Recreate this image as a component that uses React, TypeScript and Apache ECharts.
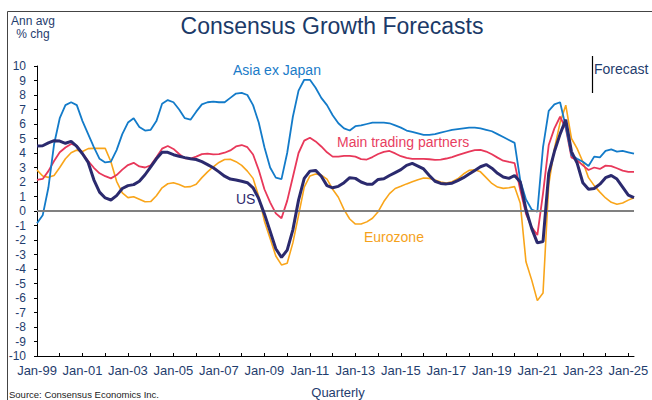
import { useEffect, useRef } from "react";
import * as echarts from "echarts";

const FONT = '"Liberation Sans", Arial, Helvetica, sans-serif';
const NAVY = "#1F3D6E";

// Quarterly categories, 1999Q1 .. 2025Q2
const years: number[] = [];
for (let y = 1999; y <= 2025; y++) years.push(y);
const months = ["Jan", "Apr", "Jul", "Oct"];
const quarters: string[] = [];
years.forEach((y) => {
  months.forEach((m) => {
    if (quarters.length < 106) quarters.push(`${m}-${String(y % 100).padStart(2, "0")}`);
  });
});

const asiaExJapan = [
  -0.85, -0.3, 1.6, 4.6,
  6.4, 7.3, 7.5, 7.3,
  6.2, 5.3, 4.4, 3.6,
  3.35, 3.4, 4.2, 5.3,
  6.1, 6.4, 5.8, 5.55,
  5.6, 6.2, 7.4, 7.65,
  7.5, 7.0, 6.4, 6.3,
  6.85, 7.35, 7.5, 7.55,
  7.5, 7.5, 7.8, 8.1,
  8.15, 8.0, 7.3, 6.1,
  4.4, 3.0, 2.3, 2.2,
  4.0, 6.5, 8.3, 9.05,
  9.05, 8.5, 7.8, 7.3,
  6.6, 6.05, 5.7, 5.55,
  5.85, 5.9, 6.0, 6.1,
  6.1, 6.1, 6.05, 5.9,
  5.75, 5.55, 5.45, 5.35,
  5.25, 5.25, 5.3, 5.4,
  5.5, 5.6, 5.65, 5.7,
  5.75, 5.75, 5.7, 5.6,
  5.5, 5.3, 5.1, 4.9,
  4.7, 2.1, 0.8, 0.1,
  -0.05, 4.4, 6.9, 7.35,
  7.5, 5.8, 3.85, 3.6,
  3.4, 3.1, 3.75, 3.7,
  4.15, 4.25, 4.1, 4.15,
  4.05, 3.95,
];

const mainTradingPartners = [
  2.14, 2.21, 2.75, 3.45,
  4.05, 4.38, 4.62, 4.5,
  3.98, 3.45, 2.98, 2.6,
  2.4, 2.25, 2.48, 2.85,
  3.17, 3.32, 3.07, 3.0,
  3.15, 3.7, 4.3, 4.48,
  4.28, 3.93, 3.63, 3.62,
  3.75, 3.92, 3.96, 3.91,
  3.92, 4.02, 4.18, 4.45,
  4.55, 4.4, 3.9, 2.83,
  1.5, 0.6, -0.16, -0.5,
  0.7, 2.35, 4.0, 4.85,
  5.05, 4.8, 4.45, 4.05,
  3.75, 3.75, 3.8, 3.8,
  3.75, 3.58, 3.55, 3.72,
  3.93, 4.08, 4.14, 3.97,
  3.78, 3.66, 3.6, 3.59,
  3.59, 3.57, 3.53, 3.55,
  3.62, 3.72, 3.85, 3.98,
  4.1, 4.2, 4.22, 4.1,
  3.91, 3.68, 3.47, 3.38,
  3.3, 1.45, -0.2, -1.1,
  -1.66, 1.22, 4.55, 5.7,
  6.5, 5.7, 3.7, 3.5,
  3.15, 2.83, 3.0, 2.9,
  3.13, 3.1, 2.95, 2.78,
  2.7, 2.7,
];

const us = [
  4.48, 4.5, 4.7, 4.85,
  4.82, 4.67, 4.8, 4.45,
  3.95, 3.35, 2.15, 1.3,
  0.9, 0.76, 1.06, 1.55,
  1.75, 1.82, 2.05, 2.5,
  3.05, 3.6, 4.05, 4.05,
  3.88, 3.78, 3.68, 3.6,
  3.55, 3.4, 3.2, 2.98,
  2.7, 2.4, 2.2, 2.14,
  2.05, 1.95, 1.6, 0.85,
  -0.2, -1.4, -2.6, -3.2,
  -2.7, -1.3, 0.75, 2.25,
  2.75, 2.8, 2.4, 1.75,
  1.6, 1.7, 1.95, 2.3,
  2.25, 2.0, 1.85, 1.85,
  2.18, 2.22, 2.45, 2.65,
  2.85, 3.15, 3.28, 3.1,
  2.9, 2.45, 2.05, 1.9,
  1.87, 1.92, 2.1, 2.3,
  2.55, 2.8, 3.05, 3.2,
  2.95, 2.6, 2.35, 2.25,
  2.45, 2.0, 0.1, -1.2,
  -2.2, -2.1, 2.6, 4.1,
  5.3, 6.3, 4.1, 3.3,
  1.95, 1.5, 1.55, 1.85,
  2.3, 2.45, 2.2, 1.65,
  1.1, 0.92,
];

const eurozone = [
  2.83, 2.41, 2.32, 2.45,
  3.0, 3.6, 4.02, 4.2,
  4.1, 4.3, 4.32, 4.32,
  4.32, 3.4, 2.05, 1.25,
  0.92, 0.98, 0.81, 0.64,
  0.65, 1.05, 1.6, 1.88,
  1.95, 1.82, 1.66, 1.68,
  1.85, 2.3, 2.7, 3.05,
  3.35, 3.55, 3.57, 3.4,
  3.15, 2.75, 2.25, 1.0,
  -0.7, -1.9, -3.1, -3.72,
  -3.6, -2.2, -0.3, 1.65,
  2.42, 2.55, 2.48, 2.2,
  1.5, 0.95, 0.1, -0.55,
  -0.9, -0.9, -0.75, -0.5,
  -0.05, 0.65, 1.2, 1.55,
  1.7, 1.87, 2.02, 2.16,
  2.28, 2.25, 2.14, 2.0,
  1.93, 2.02, 2.22, 2.55,
  2.8, 2.85, 2.7, 2.3,
  1.9, 1.65, 1.56, 1.6,
  1.68, 0.53, -3.5, -4.75,
  -6.18, -5.65, 1.8, 4.3,
  6.1, 7.3, 5.0, 4.3,
  3.4, 2.3, 1.75, 1.3,
  0.9, 0.6, 0.47, 0.55,
  0.75, 0.92,
];

const yTickMin = -10;
const yTickMax = 10;

export default function App() {
  const ref = useRef<HTMLDivElement>(null);

  useEffect(() => {
    document.body.style.margin = "0";
    if (!ref.current) return;
    const chart = echarts.init(ref.current, null, { renderer: "svg" });

    const lineSeries = (name: string, data: number[], color: string, width: number, z: number) => ({
      name,
      type: "line",
      data,
      symbol: "none",
      smooth: false,
      z,
      lineStyle: { color, width },
      itemStyle: { color },
    });

    const label = (text: string, x: number, y: number, fill: string, size = 14, align = "left") => ({
      type: "text",
      x,
      y,
      silent: true,
      style: {
        text,
        fill,
        fontSize: size,
        fontFamily: FONT,
        align,
        verticalAlign: "middle",
      },
    });

    chart.setOption({
      animation: false,
      backgroundColor: "#ffffff",
      textStyle: { fontFamily: FONT },
      grid: { left: 37, right: 18, top: 66, bottom: 44, containLabel: false },
      xAxis: {
        type: "category",
        data: quarters,
        boundaryGap: false,
        axisLine: { onZero: false, lineStyle: { color: "#000", width: 1 } },
        axisTick: {
          inside: true,
          length: 3,
          interval: (i: number) => i % 4 === 0,
          lineStyle: { color: "#000" },
        },
        axisLabel: {
          interval: (i: number) => i % 8 === 0,
          color: NAVY,
          fontSize: 13,
          margin: 8,
          fontFamily: FONT,
        },
        splitLine: { show: false },
      },
      yAxis: {
        type: "value",
        min: yTickMin,
        max: yTickMax,
        interval: 1,
        axisLine: { show: true, lineStyle: { color: "#000", width: 1 } },
        axisTick: { show: true, length: 3, lineStyle: { color: "#000" } },
        axisLabel: { color: NAVY, fontSize: 12, margin: 11, fontFamily: FONT },
        splitLine: { show: false },
      },
      series: [
        {
          ...lineSeries("Eurozone", eurozone, "#F9A51A", 1.6, 2),
          markLine: {
            silent: true,
            symbol: "none",
            label: { show: false },
            lineStyle: { color: "#808080", width: 2, type: "solid" },
            data: [{ yAxis: 0 }],
          },
        },
        lineSeries("Main trading partners", mainTradingPartners, "#E8385A", 1.8, 3),
        lineSeries("Asia ex Japan", asiaExJapan, "#137BC9", 1.8, 4),
        lineSeries("US", us, "#2B2A6E", 3, 5),
      ],
      graphic: [
        {
          type: "polyline",
          silent: true,
          shape: { points: [[7.5, 400], [7.5, 11.5], [652, 11.5]] },
          style: { stroke: "#444", lineWidth: 1, fill: null },
        },
        label("Consensus Growth Forecasts", 332, 26, "#1B3A68", 23, "center"),
        label("Ann avg", 33, 20.5, NAVY, 12, "center"),
        label("% chg", 33, 34, NAVY, 12, "center"),
        {
          type: "line",
          silent: true,
          shape: { x1: 592.5, y1: 56, x2: 592.5, y2: 93 },
          style: { stroke: "#000", lineWidth: 1.2 },
        },
        label("Forecast", 594, 69, NAVY, 14),
        label("Asia ex Japan", 233, 70, "#1A7BC8", 14),
        label("Main trading partners", 337, 142, "#E8405F", 14),
        label("US", 236, 199, "#2E2A6E", 14),
        label("Eurozone", 364, 237, "#F5A21B", 14),
        label("Quarterly", 338, 392, NAVY, 13, "center"),
        label("Source: Consensus Economics Inc.", 9, 394, "#222", 9.5),
      ],
    });

    return () => chart.dispose();
  }, []);

  return <div ref={ref} style={{ width: 652, height: 400 }} />;
}
